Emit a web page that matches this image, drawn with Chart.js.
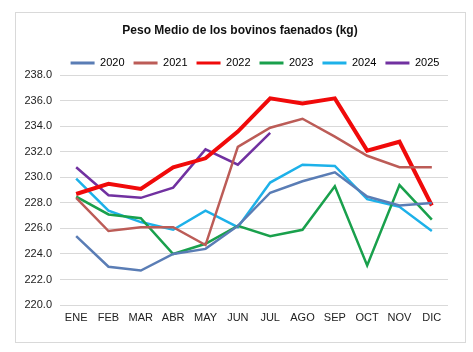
<!DOCTYPE html>
<html><head><meta charset="utf-8">
<script src="https://cdn.jsdelivr.net/npm/chart.js@4/dist/chart.umd.min.js"></script>
<style>
html,body{margin:0;padding:0;background:#fff;}
#wrap{position:relative;width:473px;height:352px;}
#frame{position:absolute;left:15px;top:12px;width:449px;height:329px;border:1px solid #d9d9d9;}
canvas{position:absolute;left:0;top:0;}
</style></head><body>
<div id="wrap"><div id="frame"></div><canvas id="c" width="473" height="352"></canvas></div>
<script>
const months = ['ENE','FEB','MAR','ABR','MAY','JUN','JUL','AGO','SEP','OCT','NOV','DIC'];
const s2020 = [225.4,223.0,222.7,224.0,224.4,226.2,228.8,229.7,230.4,228.5,227.8,228.0];
const s2021 = [228.4,225.8,226.1,226.1,224.7,232.4,233.9,234.6,233.2,231.7,230.8,230.8];
const s2022 = [228.7,229.5,229.1,230.8,231.5,233.6,236.2,235.8,236.2,232.1,232.8,227.8];
const s2023 = [228.5,227.1,226.8,224.0,224.8,226.2,225.4,225.9,229.3,223.1,229.4,226.7];
const s2024 = [229.9,227.4,226.5,225.9,227.4,226.1,229.6,231.0,230.9,228.3,227.7,225.8];
const s2025 = [230.8,228.6,228.4,229.2,232.2,231.0,233.5];
const yTicks = [220,222,224,226,228,230,232,234,236,238];

const mk = (label, data, color, w) => ({label, data, borderColor: color, backgroundColor: color,
  borderWidth: w, pointRadius: 0, tension: 0, fill: false});

const shiftPlugin = {
  id: 'shift',
  afterLayout(chart) {
    const t = chart.titleBlock, l = chart.legend;
    if (t) { t.left += 16; t.right += 16; }
    if (l) { l.left += 31; l.right += 31; l.top += 3; l.bottom += 3; }
  }
};

new Chart(document.getElementById('c'), {
  type: 'line',
  data: {
    labels: months,
    datasets: [
      mk('2020', s2020, '#5a7db5', 2.5),
      mk('2021', s2021, '#bc5c57', 2.5),
      mk('2022', s2022, '#f00a0a', 4),
      mk('2023', s2023, '#19a04c', 2.5),
      mk('2024', s2024, '#1db1e9', 2.5),
      mk('2025', s2025, '#7131a0', 2.5)
    ]
  },
  plugins: [shiftPlugin],
  options: {
    responsive: false,
    animation: false,
    layout: {padding: {left: 0, right: 25, top: 12, bottom: 10}},
    plugins: {
      title: {display: true, text: 'Peso Medio de los bovinos faenados (kg)', color: '#111',
        font: {family: 'Liberation Sans, Arial, sans-serif', size: 12, weight: 'bold'},
        padding: {top: 11, bottom: 8}},
      legend: {
        display: true,
        labels: {
          boxWidth: 24, boxHeight: 3, padding: 9, color: '#222',
          font: {family: 'Liberation Sans, Arial, sans-serif', size: 11},
          generateLabels(chart) {
            return chart.data.datasets.map((d, i) => ({text: d.label, fillStyle: d.borderColor,
              strokeStyle: d.borderColor, lineWidth: 0, datasetIndex: i, hidden: false}));
          }
        }
      },
      tooltip: {enabled: false}
    },
    scales: {
      x: {
        offset: true,
        grid: {display: false, drawTicks: false, offset: true},
        border: {display: false},
        ticks: {color: '#222', padding: 6, maxRotation: 0,
          font: {family: 'Liberation Sans, Arial, sans-serif', size: 11}},
        afterFit(s) { s.height = 37; }
      },
      y: {
        min: 220, max: 238,
        afterBuildTicks(s) { s.ticks = yTicks.map(v => ({value: v})); },
        grid: {color: '#d9d9d9', lineWidth: 1, drawTicks: false},
        border: {display: false},
        ticks: {color: '#222', padding: 8,
          font: {family: 'Liberation Sans, Arial, sans-serif', size: 11},
          callback: v => Number(v).toFixed(1)},
        afterFit(s) { s.width = 60; }
      }
    }
  }
});
</script>
</body></html>
